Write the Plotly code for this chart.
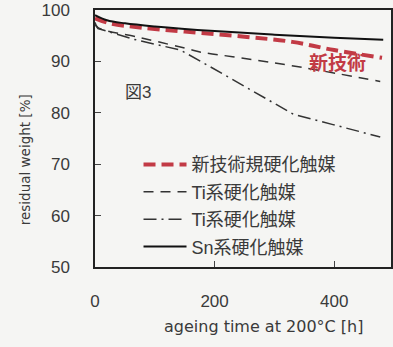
import plotly.graph_objects as go

# Data
x_new = [0, 25, 75, 150, 250, 330, 400, 480]
y_new = [98.4, 97.4, 96.6, 95.8, 94.8, 93.8, 92.2, 90.7]

x_ti1 = [0, 5, 77, 160, 177, 243, 343, 477]
y_ti1 = [97.6, 96.6, 94.6, 92.3, 91.8, 90.7, 88.9, 86.1]

x_ti2 = [0, 5, 65, 143, 177, 232, 332, 398, 477]
y_ti2 = [97.2, 96.4, 94.3, 92.2, 90.0, 86.4, 79.7, 77.7, 75.3]

x_sn = [0, 20, 50, 100, 200, 300, 400, 482]
y_sn = [99.0, 98.0, 97.4, 96.8, 95.9, 95.2, 94.6, 94.2]

names = ["新技術規硬化触媒", "Ti系硬化触媒", "Ti系硬化触媒", "Sn系硬化触媒"]
x_ticks = [0, 200, 400]
y_ticks = [50, 60, 70, 80, 90, 100]

FONT = "Liberation Sans, Noto Sans CJK JP, sans-serif"
TFONT = "DejaVu Sans, Noto Sans CJK JP, sans-serif"
TXT = "#3a3a3a"
RED = "#c23a45"
BG = "#f5f5f3"

fig = go.Figure()
fig.add_trace(go.Scatter(x=x_new, y=y_new, mode="lines", name=names[0], legendgroup="a",
                         line=dict(color=RED, width=4, dash="12px,6px"), line_shape="spline"))
fig.add_trace(go.Scatter(x=x_ti1, y=y_ti1, mode="lines", name=names[1], legendgroup="b",
                         line=dict(color="#333333", width=1.5, dash="10px,7px"), line_shape="spline"))
fig.add_trace(go.Scatter(x=x_ti2, y=y_ti2, mode="lines", name=names[2], legendgroup="c",
                         line=dict(color="#333333", width=1.5, dash="13px,5px,2px,5px")))
fig.add_trace(go.Scatter(x=x_sn, y=y_sn, mode="lines", name=names[3], legendgroup="d",
                         line=dict(color="#111111", width=2), line_shape="spline"))

fig.add_annotation(x=405, y=89.6, text="<b>新技術</b>", showarrow=False,
                   font=dict(size=19, color=RED, family=FONT))
fig.add_annotation(x=72, y=84, text="図3", showarrow=False,
                   font=dict(size=17, color=TXT, family=FONT))
# axis titles
fig.add_annotation(xref="paper", yref="paper", x=-0.236, y=0.416, text="residual weight [%]",
                   textangle=-90, showarrow=False, xanchor="center", yanchor="middle",
                   font=dict(size=13.5, color=TXT, family=TFONT))
fig.add_annotation(xref="paper", yref="paper", x=0.568, y=-0.233, text="ageing time at 200°C [h]",
                   showarrow=False, xanchor="center", yanchor="middle",
                   font=dict(size=16, color=TXT, family=TFONT))

fig.update_layout(
    width=393, height=347,
    margin=dict(l=95, r=2, t=10, b=80, autoexpand=False),
    paper_bgcolor=BG, plot_bgcolor=BG,
    font=dict(family=FONT, color=TXT, size=16),
    showlegend=True,
    legend=dict(x=0.147, y=0.47, xanchor="left", yanchor="top",
                bgcolor="rgba(0,0,0,0)", font=dict(size=18, color=TXT),
                itemwidth=43, tracegroupgap=1),
)
fig.update_xaxes(range=[0, 495], tickvals=x_ticks, ticks="inside", ticklen=6,
                 showline=True, linecolor="#222", linewidth=1.5, mirror=True,
                 showgrid=False, zeroline=False, ticklabelstandoff=18,
                 ticklabeloverflow="allow", tickfont=dict(size=17, color=TXT))
fig.update_yaxes(range=[50, 100], tickvals=y_ticks, ticks="inside", ticklen=6,
                 showline=True, linecolor="#222", linewidth=1.5, mirror=True,
                 showgrid=False, zeroline=False, ticklabelstandoff=20,
                 ticklabeloverflow="allow", tickfont=dict(size=17, color=TXT))

fig.write_html("out.html", config={"displayModeBar": False},
               post_script="document.body.style.margin='0';document.body.style.overflow='hidden';")
